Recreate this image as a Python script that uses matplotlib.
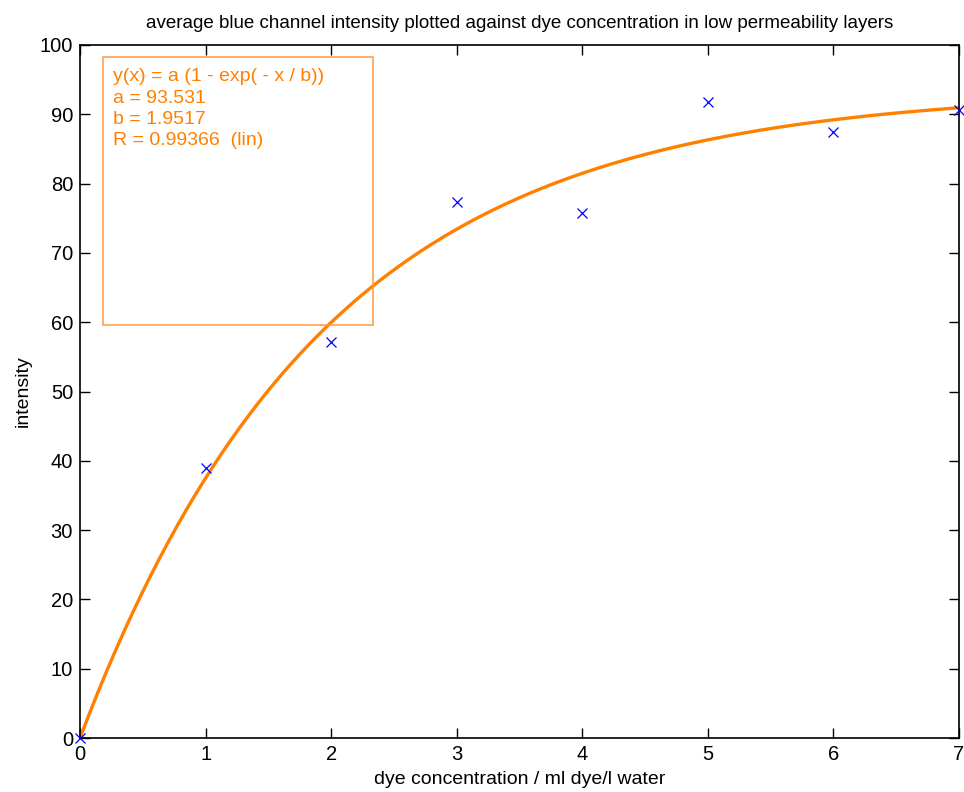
import numpy as np
import matplotlib.pyplot as plt
from matplotlib.patches import Rectangle

plt.rcParams['font.family'] = ['Liberation Sans', 'DejaVu Sans']

# measured points
conc = [0, 1, 2, 3, 4, 5, 6, 7]
intensity = [0.0, 38.9, 57.2, 77.3, 75.8, 91.8, 87.4, 90.6]

# fit parameters shown in the box
fit_a = 93.531
fit_b = 1.9517
fit_r = 0.99366

orange = '#ff8000'

fig = plt.figure(figsize=(9.64, 7.92), dpi=100)
ax = fig.add_axes([80 / 964, 1 - 738 / 792, 879 / 964, 693 / 792])

xs = np.linspace(0, 7, 300)
ax.plot(xs, fit_a * (1 - np.exp(-xs / fit_b)), color=orange, lw=2.4, zorder=2)
ax.plot(conc, intensity, 'x', color='#0000ff', ms=7, mew=0.9, zorder=3, clip_on=False)

ax.set_xlim(0, 7)
ax.set_ylim(0, 100)
ax.set_xticks(range(0, 8))
ax.set_yticks(range(0, 101, 10))
ax.tick_params(direction='in', top=True, right=True, length=7, width=1, labelsize=14.5, pad=5)
for s in ax.spines.values():
    s.set_linewidth(1.2)

ax.set_title('average blue channel intensity plotted against dye concentration in low permeability layers',
             fontsize=13.5, pad=12)
ax.set_xlabel('dye concentration / ml dye/l water', fontsize=14, labelpad=5)
ax.set_ylabel('intensity', fontsize=14, labelpad=6)

# fit result box
ax.add_patch(Rectangle((0.026, 0.596), 0.307, 0.387, transform=ax.transAxes,
                       fill=False, ec='#ff9a40', lw=1.1, zorder=4))
lines = ['y(x) = a (1 - exp( - x / b))',
         'a = %.3f' % fit_a,
         'b = %.4f' % fit_b,
         'R = %.5f  (lin)' % fit_r]
for i, line in enumerate(lines):
    ax.text(0.038, 0.954 - i * 0.0305, line, transform=ax.transAxes, va='center', ha='left',
            color=orange, fontsize=14, zorder=5)

fig.savefig('out.png', dpi=100)
